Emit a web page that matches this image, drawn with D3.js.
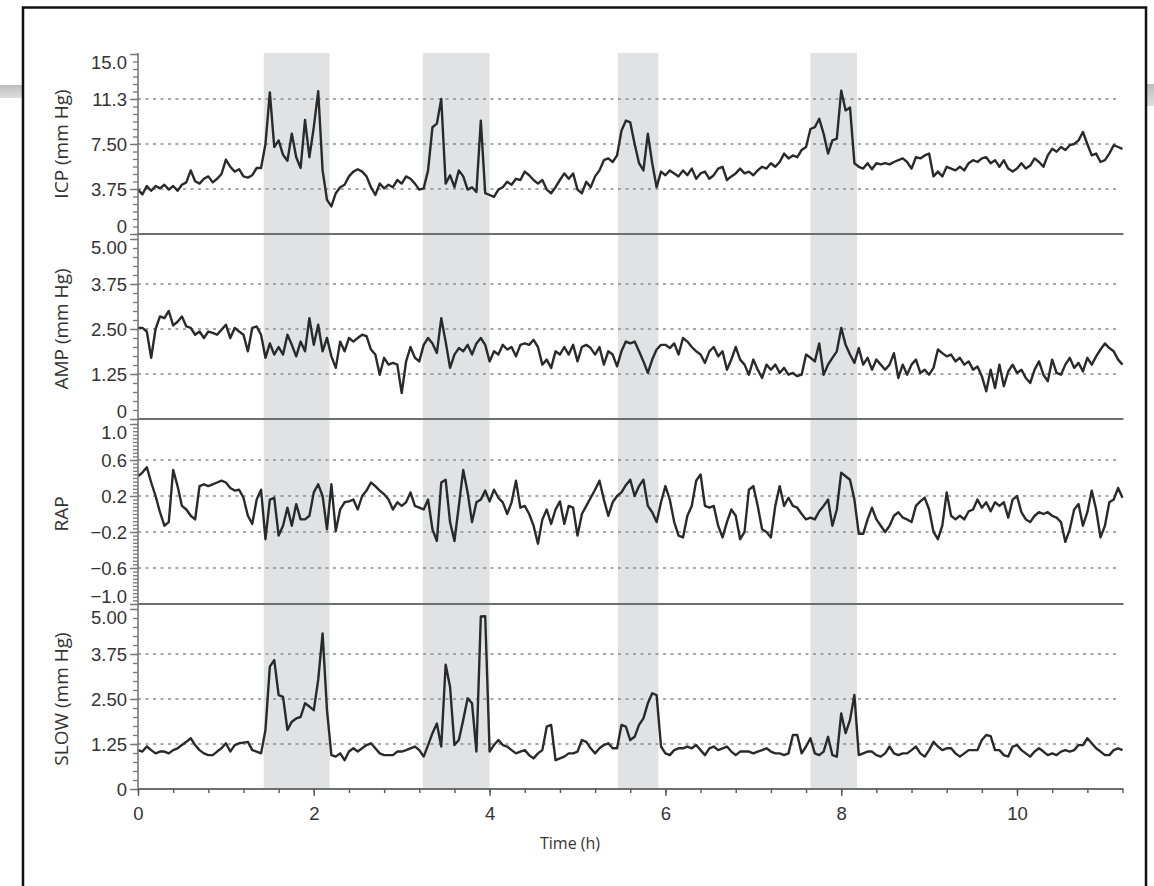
<!DOCTYPE html>
<html>
<head>
<meta charset="utf-8">
<script src="https://cdn.jsdelivr.net/npm/d3@7"></script>
<style>
  body { margin: 0; background: #fff; }
  svg { display: block; font-family: "Open Sans", "Noto Sans", sans-serif; }
</style>
</head>
<body>
<svg id="chart" width="1154" height="886"></svg>
<script>
// ---- data (one sample every 0.05 h, 0 .. 11.2 h) ----
const sampleStep = 0.05;

const icpValues = [
  3.7, 3.3, 4.0, 3.6, 4.0, 3.8, 4.1, 3.7, 4.0, 3.6, 4.1, 4.3, 5.3, 4.4, 4.2, 4.6, 4.8, 4.3, 4.6, 5.0,
  6.2, 5.6, 5.2, 5.4, 4.8, 4.7, 4.9, 5.5, 5.5, 7.5, 11.8, 7.25, 7.8, 6.6, 6.1, 8.35, 6.4, 5.5, 9.5, 6.4,
  8.9, 11.9, 5.3, 2.84, 2.3, 3.4, 3.9, 4.1, 4.8, 5.2, 5.4, 5.2, 4.8, 3.9, 3.25, 4.2, 3.8, 4.1, 3.9, 4.5,
  4.2, 4.8, 4.6, 4.2, 3.7, 3.8, 5.3, 8.9, 9.2, 11.25, 4.2, 4.9, 3.9, 5.3, 4.8, 3.7, 3.9, 3.5, 9.45, 3.4,
  3.25, 3.1, 3.7, 3.9, 4.35, 4.1, 4.6, 4.5, 5.2, 4.9, 4.5, 4.2, 4.5, 3.7, 3.4, 3.9, 4.5, 5.05, 4.6, 5.05,
  3.7, 3.4, 4.35, 3.9, 4.8, 5.3, 6.15, 6.3, 6.0, 6.55, 8.6, 9.45, 9.3, 7.5, 5.9, 5.3, 8.35, 5.9, 3.9, 5.2,
  4.9, 5.3, 5.05, 4.8, 5.3, 4.9, 5.45, 4.6, 5.05, 5.2, 4.6, 4.9, 5.45, 5.6, 4.5, 4.8, 5.05, 5.45, 5.05, 5.2,
  4.9, 5.3, 5.6, 5.45, 5.9, 5.6, 6.0, 6.7, 6.3, 6.55, 6.4, 7.0, 7.25, 8.75, 8.9, 9.6, 8.35, 6.7, 7.8, 7.95,
  11.95, 10.3, 10.55, 5.9, 5.6, 5.45, 5.9, 5.4, 5.9, 5.8, 5.9, 5.8, 6.0, 6.15, 6.3, 6.0, 5.45, 6.4, 6.3, 6.55,
  6.7, 4.8, 5.2, 4.8, 5.6, 5.45, 5.3, 5.6, 5.3, 5.9, 6.15, 6.0, 6.3, 6.4, 5.9, 6.15, 5.6, 6.15, 5.45, 5.2,
  5.45, 5.9, 5.45, 5.7, 6.3, 6.0, 5.6, 6.55, 7.1, 6.85, 7.25, 7.0, 7.4, 7.5, 7.8, 8.5, 7.5, 6.55, 6.7, 6.0,
  6.15, 6.7, 7.4, 7.25, 7.1
];

const ampValues = [
  2.53, 2.53, 2.43, 1.7, 2.5, 2.85, 2.8, 3.0, 2.6, 2.7, 2.85, 2.57, 2.53, 2.34, 2.43, 2.25, 2.43, 2.39, 2.34, 2.48,
  2.62, 2.25, 2.53, 2.43, 2.34, 1.88, 2.53, 2.57, 2.34, 1.7, 2.1, 1.79, 2.0, 1.79, 2.34, 2.06, 1.74, 2.15, 1.88, 2.8,
  2.06, 2.62, 1.88, 2.25, 1.74, 1.42, 2.15, 1.88, 2.25, 2.15, 2.25, 2.34, 2.3, 1.93, 1.79, 1.23, 1.7, 1.51, 1.56, 1.51,
  0.72, 1.6, 2.0, 1.7, 1.6, 2.06, 2.25, 2.1, 1.83, 2.8, 2.15, 1.42, 1.79, 1.97, 1.88, 2.06, 1.79, 2.1, 2.25, 2.06,
  1.6, 1.88, 1.79, 2.06, 1.93, 2.0, 1.74, 2.06, 2.1, 2.06, 2.2, 2.0, 1.51, 1.65, 1.42, 1.88, 1.79, 2.0, 1.79, 2.06,
  1.6, 2.0, 2.06, 1.97, 1.79, 2.0, 1.51, 1.88, 1.79, 1.46, 1.88, 2.15, 2.1, 2.15, 1.88, 1.6, 1.28, 1.65, 1.93, 2.06,
  2.06, 1.97, 2.1, 1.79, 2.25, 2.15, 2.0, 1.88, 1.79, 1.56, 1.88, 2.0, 1.74, 1.88, 1.37, 1.65, 2.0, 1.65, 1.51, 1.23,
  1.65, 1.37, 1.14, 1.51, 1.37, 1.51, 1.28, 1.42, 1.23, 1.28, 1.19, 1.23, 1.79, 1.7, 1.6, 2.1, 1.23, 1.51, 1.7, 1.88,
  2.53, 2.06, 1.79, 1.56, 1.97, 1.51, 1.7, 1.37, 1.65, 1.51, 1.37, 1.51, 1.83, 1.14, 1.51, 1.23, 1.51, 1.65, 1.28, 1.37,
  1.23, 1.42, 1.93, 1.83, 1.74, 1.79, 1.6, 1.7, 1.51, 1.6, 1.37, 1.46, 1.19, 0.77, 1.37, 0.86, 1.51, 0.91, 1.32, 1.51,
  1.28, 1.37, 1.14, 1.0, 1.37, 1.6, 1.23, 1.05, 1.65, 1.28, 1.23, 1.51, 1.7, 1.42, 1.56, 1.32, 1.7, 1.51, 1.74, 1.93,
  2.1, 1.97, 1.88, 1.65, 1.51
];

const rapValues = [
  0.42, 0.46, 0.52, 0.35, 0.2, 0.02, -0.13, -0.09, 0.49, 0.31, 0.09, 0.05, -0.02, -0.06, 0.31, 0.33, 0.31, 0.33, 0.35, 0.37,
  0.35, 0.29, 0.26, 0.27, 0.18, -0.02, -0.11, 0.16, 0.27, -0.28, 0.16, 0.18, -0.24, -0.13, 0.07, -0.13, 0.11, -0.06, -0.06, -0.02,
  0.24, 0.33, 0.2, -0.17, 0.33, -0.19, 0.05, 0.13, 0.14, 0.16, 0.05, 0.2, 0.26, 0.35, 0.31, 0.26, 0.22, 0.16, 0.05, 0.13,
  0.09, 0.13, 0.24, 0.09, 0.07, 0.05, 0.16, -0.17, -0.3, 0.35, 0.38, -0.09, -0.3, 0.09, 0.49, 0.24, -0.09, 0.13, 0.16, 0.26,
  0.14, 0.27, 0.18, 0.13, 0.0, 0.13, 0.37, 0.07, 0.09, 0.0, -0.13, -0.33, -0.06, 0.05, -0.11, 0.05, 0.14, -0.11, 0.09, 0.07,
  -0.24, 0.0, 0.09, 0.18, 0.27, 0.37, 0.16, -0.02, 0.13, 0.2, 0.24, 0.32, 0.38, 0.2, 0.31, 0.38, 0.09, 0.02, -0.09, 0.13,
  0.31, 0.16, -0.09, -0.24, -0.26, -0.02, 0.09, 0.37, 0.44, 0.09, 0.07, 0.09, -0.13, -0.26, -0.09, 0.05, -0.02, -0.28, -0.2, 0.27,
  0.31, 0.09, -0.17, -0.2, -0.26, 0.09, 0.31, 0.09, 0.18, 0.09, 0.07, 0.0, -0.06, -0.04, -0.06, 0.03, 0.09, 0.16, -0.13, 0.05,
  0.46, 0.42, 0.38, 0.16, -0.22, -0.22, -0.06, 0.07, -0.06, -0.13, -0.2, -0.13, -0.02, 0.02, -0.04, -0.06, -0.09, 0.09, 0.14, 0.18,
  0.05, -0.2, -0.28, -0.13, 0.24, -0.02, -0.06, -0.02, -0.06, 0.03, 0.05, 0.16, 0.07, 0.13, 0.03, 0.13, 0.09, 0.13, -0.04, 0.16,
  0.2, 0.02, -0.06, -0.09, -0.02, 0.02, 0.0, 0.02, -0.02, -0.04, -0.09, -0.31, -0.17, 0.05, 0.11, -0.13, 0.02, 0.26, 0.05, -0.26,
  -0.13, 0.13, 0.16, 0.29, 0.18
];

const slowValues = [
  1.08, 1.04, 1.18, 1.08, 0.99, 1.04, 1.04, 0.99, 1.08, 1.13, 1.22, 1.31, 1.41, 1.22, 1.08, 0.99, 0.94, 0.94, 1.04, 1.13,
  1.27, 1.04, 1.22, 1.27, 1.29, 1.31, 1.08, 1.04, 0.99, 1.64, 3.4, 3.58, 2.61, 2.56, 1.64, 1.87, 1.96, 2.0, 2.38, 2.29,
  2.19, 3.03, 4.32, 2.19, 0.94, 0.9, 0.99, 0.8, 1.04, 1.13, 1.04, 1.13, 1.22, 1.27, 1.13, 0.99, 0.94, 0.94, 0.94, 1.04,
  1.04, 1.08, 1.13, 1.18, 1.08, 0.9, 1.22, 1.55, 1.82, 1.18, 3.45, 2.84, 1.22, 1.36, 1.92, 2.52, 2.38, 1.04, 4.79, 4.8,
  1.04, 1.22, 1.36, 1.22, 1.18, 1.08, 0.99, 1.04, 1.08, 0.94, 0.85, 0.99, 1.08, 1.73, 1.78, 0.8, 0.85, 0.9, 0.99, 0.99,
  1.04, 1.36, 1.31, 1.13, 0.99, 1.13, 1.22, 1.27, 1.13, 1.13, 1.78, 1.73, 1.36, 1.45, 1.78, 1.96, 2.38, 2.66, 2.61, 1.18,
  0.99, 0.94, 1.08, 1.13, 1.13, 1.18, 1.13, 1.22, 1.08, 0.94, 1.13, 1.18, 1.08, 1.13, 1.18, 1.04, 0.94, 1.04, 1.04, 1.04,
  0.99, 1.04, 1.08, 1.13, 1.04, 0.99, 0.99, 0.94, 0.99, 1.5, 1.5, 0.99, 1.18, 1.41, 0.99, 0.94, 1.04, 1.45, 0.94, 0.9,
  2.1, 1.55, 1.92, 2.61, 0.94, 0.99, 1.04, 1.04, 0.94, 0.9, 0.99, 1.18, 0.99, 0.94, 0.99, 0.99, 1.08, 1.18, 0.99, 0.9,
  1.08, 1.31, 1.18, 1.08, 1.13, 1.13, 0.99, 0.9, 0.99, 1.08, 1.08, 1.08, 1.36, 1.5, 1.47, 1.08, 1.08, 0.94, 0.9, 1.18,
  1.22, 1.08, 0.99, 0.9, 1.04, 1.13, 1.04, 0.94, 0.99, 0.94, 1.04, 1.08, 1.04, 1.08, 1.22, 1.22, 1.41, 1.27, 1.13, 1.04,
  0.94, 0.94, 1.08, 1.13, 1.08
];

// shaded episodes (hours)
const shadeStart = [1.43, 3.24, 5.46, 7.65];
const shadeEnd   = [2.18, 4.00, 5.92, 8.18];

// tick values / labels
const icpTicks = [0, 3.75, 7.5, 11.25, 15];
const icpTickLabels = ["0", "3.75", "7.50", "11.3", "15.0"];
const ampTicks = [0, 1.25, 2.5, 3.75, 5];
const ampTickLabels = ["0", "1.25", "2.50", "3.75", "5.00"];
const rapTicks = [-1, -0.6, -0.2, 0.2, 0.6, 1];
const rapTickLabels = ["\u22121.0", "\u22120.6", "\u22120.2", "0.2", "0.6", "1.0"];
const slowTicks = [0, 1.25, 2.5, 3.75, 5];
const slowTickLabels = ["0", "1.25", "2.50", "3.75", "5.00"];
const timeTicks = [0, 2, 4, 6, 8, 10];

const panels = [
  { label: "ICP (mm Hg)",  values: icpValues,  domain: [0, 15], ticks: icpTicks,  tickLabels: icpTickLabels,  minor: 0.625 },
  { label: "AMP (mm Hg)",  values: ampValues,  domain: [0, 5],  ticks: ampTicks,  tickLabels: ampTickLabels,  minor: 0.25 },
  { label: "RAP",          values: rapValues,  domain: [-1, 1], ticks: rapTicks,  tickLabels: rapTickLabels,  minor: 0.04 },
  { label: "SLOW (mm Hg)", values: slowValues, domain: [0, 5],  ticks: slowTicks, tickLabels: slowTickLabels, minor: 0.25 }
];

// ---- layout ----
const left = 138, right = 1122.5;
const panelTop = 54, panelH = 180, panelGap = 5;
const axisY = panelTop + 3 * (panelH + panelGap) + panelH;

const x = d3.scaleLinear().domain([0, 11.2]).range([left, right]);
const svg = d3.select('#chart');

// grey bars peeking out behind the frame
const defs = svg.append('defs');
const grad = defs.append('linearGradient').attr('id', 'barGrad')
  .attr('x1', 0).attr('y1', 0).attr('x2', 0).attr('y2', 1);
grad.append('stop').attr('offset', '0%').attr('stop-color', '#bdbdbd');
grad.append('stop').attr('offset', '100%').attr('stop-color', '#dedede');
svg.append('rect').attr('x', 0).attr('y', 85).attr('width', 23).attr('height', 13).attr('fill', 'url(#barGrad)');
svg.append('rect').attr('x', 1146).attr('y', 84).attr('width', 8).attr('height', 22).attr('fill', 'url(#barGrad)');

// frame
svg.append('rect')
  .attr('x', 23).attr('y', 7.5).attr('width', 1123).attr('height', 920)
  .attr('fill', '#fff').attr('stroke', '#111').attr('stroke-width', 2.5);

// shaded bands
svg.append('g').selectAll('rect')
  .data(shadeStart)
  .join('rect')
  .attr('x', (d) => x(d))
  .attr('width', (d, i) => x(shadeEnd[i]) - x(d))
  .attr('y', panelTop - 1)
  .attr('height', axisY - panelTop + 1)
  .attr('fill', '#e1e2e4');

panels.forEach((p, i) => {
  const top = panelTop + i * (panelH + panelGap);
  const bottom = top + panelH;
  const y = d3.scaleLinear().domain(p.domain).range([bottom, top]);
  const g = svg.append('g');

  // dashed grid at inner ticks
  g.selectAll('line.grid')
    .data(p.ticks.slice(1, -1))
    .join('line')
    .attr('class', 'grid')
    .attr('x1', left).attr('x2', 1119)
    .attr('y1', (d) => y(d)).attr('y2', (d) => y(d))
    .attr('stroke', '#8c8c8c')
    .attr('stroke-width', 1.6)
    .attr('stroke-dasharray', '3,4.5');

  // solid baseline of the panel
  g.append('line')
    .attr('x1', left).attr('x2', right + 1)
    .attr('y1', bottom).attr('y2', bottom)
    .attr('stroke', '#6e6e6e').attr('stroke-width', 2);

  // the trace
  const line = d3.line()
    .x((d, k) => x(k * sampleStep))
    .y((d) => y(d));
  g.append('path')
    .datum(p.values)
    .attr('d', line)
    .attr('fill', 'none')
    .attr('stroke', '#2a2a2a')
    .attr('stroke-width', 2.4)
    .attr('stroke-linejoin', 'round');

  // minor ticks
  const minorTicks = d3.range(p.domain[0], p.domain[1] + 1e-6, p.minor);
  const gMinor = g.append('g')
    .attr('transform', `translate(${left},0)`)
    .call(d3.axisLeft(y).tickValues(minorTicks).tickSize(5).tickFormat(''));
  gMinor.select('.domain').remove();
  gMinor.selectAll('line').attr('stroke', '#777').attr('stroke-width', 1.3);

  // major ticks and labels
  const gMajor = g.append('g')
    .attr('transform', `translate(${left},0)`)
    .call(d3.axisLeft(y).tickValues(p.ticks).tickSize(8).tickPadding(3)
      .tickFormat((d, k) => p.tickLabels[k]));
  gMajor.select('.domain').remove();
  gMajor.selectAll('line').attr('stroke', '#777').attr('stroke-width', 1.4);
  gMajor.selectAll('text')
    .attr('font-size', 18.5)
    .attr('fill', '#333')
    .attr('dy', (d, k) => {
      if (k === p.ticks.length - 1) return '14px';      // top label hangs below its tick
      if (k === 0 && i < panels.length - 1) return '-2px'; // bottom label sits on its tick
      return '0.34em';
    });

  // axis title
  g.append('text')
    .attr('transform', `translate(68,${(top + bottom) / 2}) rotate(-90)`)
    .attr('text-anchor', 'middle')
    .attr('font-size', 19)
    .attr('fill', '#333')
    .text(p.label);
});

// left axis line
svg.append('line')
  .attr('x1', left).attr('x2', left)
  .attr('y1', panelTop - 1).attr('y2', axisY)
  .attr('stroke', '#777').attr('stroke-width', 1.6);

// time axis
const gxMinor = svg.append('g')
  .attr('transform', `translate(0,${axisY})`)
  .call(d3.axisBottom(x).tickValues(d3.range(0, 11.2 + 1e-6, 0.4)).tickSize(4).tickFormat(''));
gxMinor.select('.domain').remove();
gxMinor.selectAll('line').attr('stroke', '#555').attr('stroke-width', 1.4);

const gx = svg.append('g')
  .attr('transform', `translate(0,${axisY})`)
  .call(d3.axisBottom(x).tickValues(timeTicks).tickSize(7).tickPadding(11).tickFormat(d3.format('d')));
gx.select('.domain').remove();
gx.selectAll('line').attr('stroke', '#555').attr('stroke-width', 1.4);
gx.selectAll('text').attr('font-size', 18.5).attr('fill', '#333');

svg.append('text')
  .attr('x', 570).attr('y', 849)
  .attr('text-anchor', 'middle')
  .attr('font-size', 16)
  .attr('fill', '#333')
  .text('Time (h)');
</script>
</body>
</html>
